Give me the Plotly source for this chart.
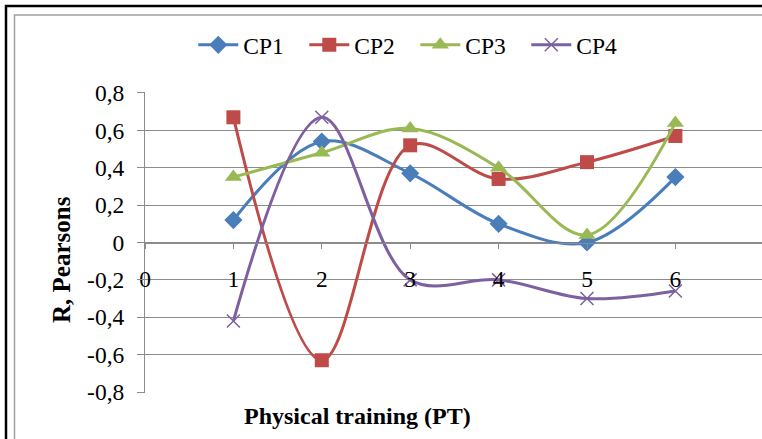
import plotly.graph_objects as go

x_vals = [1, 2, 3, 4, 5, 6]
cp1 = [0.12, 0.54, 0.37, 0.10, 0.00, 0.35]
cp2 = [0.67, -0.63, 0.52, 0.34, 0.43, 0.57]
cp3 = [0.35, 0.48, 0.61, 0.40, 0.04, 0.64]
cp4 = [-0.42, 0.67, -0.20, -0.20, -0.30, -0.26]
y_ticks = [-0.8, -0.6, -0.4, -0.2, 0, 0.2, 0.4, 0.6, 0.8]
y_ticktext = ["-0,8", "-0,6", "-0,4", "-0,2", "0", "0,2", "0,4", "0,6", "0,8"]
x_ticks = [0, 1, 2, 3, 4, 5, 6]
x_ticktext = ["0", "1", "2", "3", "4", "5", "6"]

W, H = 762, 439
ML, MR, MT, MB = 145, 0, 92, 46
PW, PH = W - ML - MR, H - MT - MB

def px_x(p):
    return (p - ML) / PW

def px_y(p):
    return (H - MB - p) / PH

FONT = "Liberation Serif"
FS = 23.5
series = [
    ("CP1", cp1, "#4A7EBB", "diamond", 14),
    ("CP2", cp2, "#BE4B48", "square", 14),
    ("CP3", cp3, "#98B954", "triangle-up", 15),
    ("CP4", cp4, "#7D60A0", "x-thin", 13),
]

fig = go.Figure()
for name, vals, col, sym, sz in series:
    marker = dict(symbol=sym, size=sz, color=col)
    if sym == "x-thin":
        marker["line"] = dict(color=col, width=1.5)
    fig.add_trace(go.Scatter(
        x=x_vals, y=vals, name=name, mode="lines+markers",
        line=dict(color=col, width=3, shape="spline", smoothing=1.0),
        marker=marker, cliponaxis=False,
    ))

fig.update_layout(
    width=W, height=H,
    margin=dict(l=ML, r=MR, t=MT, b=MB, pad=0),
    paper_bgcolor="white", plot_bgcolor="white",
    font=dict(family=FONT, size=FS, color="black"),
    showlegend=True,
    legend=dict(orientation="h", xref="container", yref="container",
                x=0.545, y=1 - 45 / H, xanchor="center", yanchor="middle",
                font=dict(family=FONT, size=FS), itemwidth=40,
                entrywidth=56, entrywidthmode="pixels",
                bgcolor="rgba(0,0,0,0)"),
    xaxis=dict(range=[0, (W - ML) / 88.4], tickvals=x_ticks, ticktext=x_ticktext,
               showgrid=False, zeroline=False, showline=True, linecolor="#8C8C8C",
               linewidth=1, ticks="outside", ticklen=5, tickcolor="#8C8C8C",
               anchor="free", position=0.5, ticklabelstandoff=10,
               tickfont=dict(family=FONT, size=FS)),
    yaxis=dict(range=[-0.8053, 0.8053], tickvals=y_ticks, ticktext=y_ticktext,
               showgrid=True, gridcolor="#8C8C8C", gridwidth=1,
               zeroline=False, showline=True, linecolor="#8C8C8C", linewidth=1,
               ticks="outside", ticklen=7, tickcolor="#8C8C8C",
               ticklabelstandoff=8, tickfont=dict(family=FONT, size=FS)),
)

fig.add_annotation(x=7, y=-0.2, xref="x", yref="y", text="7", showarrow=False,
                   font=dict(family=FONT, size=FS), xanchor="center", yanchor="middle")
fig.add_annotation(x=px_x(357), y=px_y(416), xref="paper", yref="paper",
                   text="<b>Physical training (PT)</b>", showarrow=False,
                   font=dict(family=FONT, size=24), xanchor="center", yanchor="middle")
fig.add_annotation(x=px_x(61), y=px_y(260), xref="paper", yref="paper",
                   text="<b>R, Pearsons</b>", showarrow=False, textangle=-90,
                   font=dict(family=FONT, size=25), xanchor="center", yanchor="middle")

fig.add_shape(type="rect", xref="paper", yref="paper",
              x0=px_x(6), y0=px_y(600), x1=px_x(900), y1=px_y(6),
              line=dict(color="black", width=2.5), layer="above")
fig.add_shape(type="rect", xref="paper", yref="paper",
              x0=px_x(14.5), y0=px_y(600), x1=px_x(900), y1=px_y(15),
              line=dict(color="#A0A0A0", width=1.5), layer="above")

fig.write_html("out.html", post_script="document.body.style.margin='0px';",
               config={"displayModeBar": False})
